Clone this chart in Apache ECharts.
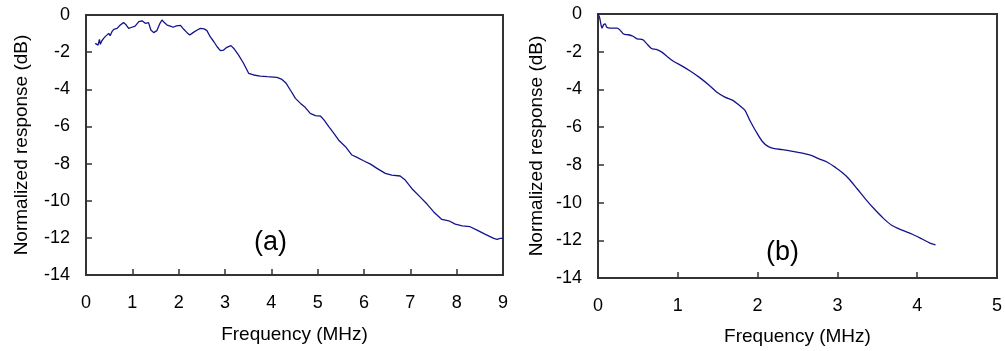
<!DOCTYPE html>
<html>
<head>
<meta charset="utf-8">
<script src="https://cdn.jsdelivr.net/npm/echarts@6/dist/echarts.min.js"></script>
<style>
html,body{margin:0;padding:0;background:#fff;}
#c{width:1005px;height:351px;}
</style>
</head>
<body>
<div id="c"></div>
<script>
// Panel (a): frequency (MHz) and normalized response (dB)
const freqA = [0.2,0.24,0.26,0.29,0.31,0.34,0.38,0.42,0.45,0.49,0.52,0.56,0.6,0.67,0.74,0.81,0.87,0.92,0.99,1.06,1.14,1.21,1.28,1.35,1.4,1.46,1.53,1.59,1.64,1.69,1.75,1.82,1.88,1.95,2.04,2.11,2.18,2.24,2.31,2.4,2.47,2.55,2.61,2.68,2.76,2.83,2.9,2.97,3.04,3.13,3.19,3.29,3.4,3.51,3.62,3.76,3.91,4.12,4.23,4.32,4.41,4.52,4.63,4.73,4.84,4.95,5.06,5.14,5.24,5.35,5.45,5.6,5.74,5.85,5.99,6.14,6.28,6.46,6.6,6.78,6.89,7.03,7.22,7.36,7.5,7.68,7.83,7.97,8.12,8.29,8.44,8.62,8.8,8.87,8.94,9.0];
const respA = [-1.53,-1.44,-1.62,-1.31,-1.58,-1.4,-1.26,-1.15,-1.05,-0.99,-1.12,-0.9,-0.77,-0.72,-0.54,-0.41,-0.54,-0.72,-0.66,-0.6,-0.36,-0.31,-0.45,-0.41,-0.81,-0.95,-0.84,-0.48,-0.27,-0.41,-0.54,-0.6,-0.66,-0.59,-0.56,-0.77,-0.95,-1.08,-0.95,-0.81,-0.72,-0.75,-0.84,-1.17,-1.44,-1.71,-1.92,-1.89,-1.74,-1.65,-1.8,-2.15,-2.6,-3.14,-3.23,-3.29,-3.32,-3.36,-3.47,-3.68,-4.04,-4.49,-4.76,-4.97,-5.3,-5.42,-5.44,-5.66,-6.01,-6.37,-6.73,-7.09,-7.54,-7.67,-7.85,-8.03,-8.26,-8.53,-8.62,-8.67,-8.89,-9.34,-9.82,-10.18,-10.59,-11.01,-11.08,-11.26,-11.35,-11.4,-11.58,-11.81,-12.03,-12.08,-12.03,-12.03];

// Panel (b)
const freqB = [0,0.017,0.03,0.05,0.07,0.09,0.11,0.15,0.24,0.28,0.32,0.38,0.44,0.49,0.56,0.61,0.67,0.73,0.8,0.86,0.94,1.05,1.15,1.27,1.4,1.5,1.59,1.69,1.77,1.84,1.9,1.98,2.06,2.13,2.21,2.31,2.44,2.56,2.67,2.77,2.87,2.98,3.06,3.14,3.25,3.35,3.46,3.58,3.68,3.81,3.94,4.06,4.16,4.23];
const respB = [0,-0.14,-0.4,-0.75,-0.57,-0.52,-0.7,-0.75,-0.75,-0.87,-1.06,-1.1,-1.18,-1.32,-1.36,-1.57,-1.83,-1.88,-2.02,-2.23,-2.49,-2.75,-3.01,-3.36,-3.8,-4.18,-4.41,-4.58,-4.84,-5.1,-5.62,-6.23,-6.76,-7.02,-7.14,-7.19,-7.28,-7.38,-7.5,-7.68,-7.85,-8.15,-8.41,-8.72,-9.28,-9.8,-10.33,-10.85,-11.2,-11.46,-11.68,-11.93,-12.15,-12.24];

const yTicks = [0,-2,-4,-6,-8,-10,-12,-14];
const panelLabels = ['(a)','(b)'];
const xTitle = 'Frequency (MHz)';
const yTitle = 'Normalized response (dB)';

const FONT = 'Liberation Sans, Arial, sans-serif';
const axisCol = '#333';
const lineCol = '#14148c';

function pairs(xs, ys){ return xs.map((x,i)=>[x, ys[i]]); }

function xAx(gi, max, gap){
  return {
    gridIndex: gi, type:'value', min:0, max:max, interval:1,
    name: xTitle, nameLocation:'middle', nameGap: gap,
    nameTextStyle:{fontFamily:FONT, fontSize:19, color:'#000'},
    axisLine:{show:true, onZero:false, lineStyle:{color:axisCol, width:2}},
    axisTick:{show:true, inside:true, length:6, lineStyle:{color:axisCol, width:1.5}},
    axisLabel:{fontFamily:FONT, fontSize:18, color:'#000', margin:19},
    splitLine:{show:false}
  };
}
function yAx(gi, gap){
  return {
    gridIndex: gi, type:'value', min:-14, max:0, interval:2,
    name: yTitle, nameLocation:'middle', nameGap: gap, nameRotate:90,
    nameTextStyle:{fontFamily:FONT, fontSize:19, color:'#000'},
    axisLine:{show:true, onZero:false, lineStyle:{color:axisCol, width:2}},
    axisTick:{show:true, inside:true, length:6, lineStyle:{color:axisCol, width:1.5}},
    axisLabel:{fontFamily:FONT, fontSize:18, color:'#000', margin:16,
      formatter: v => yTicks.includes(v) ? String(v) : ''},
    splitLine:{show:false}
  };
}

const chart = echarts.init(document.getElementById('c'), null, {renderer:'canvas'});
chart.setOption({
  animation:false,
  backgroundColor:'#fff',
  grid:[
    {left:86, top:15, width:417, height:260, show:true, borderColor:axisCol, borderWidth:2, backgroundColor:'transparent'},
    {left:598, top:14, width:401, height:268, show:true, borderColor:axisCol, borderWidth:2, backgroundColor:'transparent'}
  ],
  xAxis:[xAx(0, 9, 50), xAx(1, 5, 49)],
  yAxis:[yAx(0, 55), yAx(1, 52)],
  series:[
    {type:'line', xAxisIndex:0, yAxisIndex:0, data:pairs(freqA, respA), showSymbol:false, smooth:false,
      lineStyle:{color:lineCol, width:1.3}},
    {type:'line', xAxisIndex:1, yAxisIndex:1, data:pairs(freqB, respB), showSymbol:false, smooth:0.3,
      lineStyle:{color:lineCol, width:1.3}}
  ],
  graphic:[
    {type:'text', left:254, top:229, style:{text:panelLabels[0], fontFamily:FONT, fontSize:27, fill:'#000'}},
    {type:'text', left:766, top:239, style:{text:panelLabels[1], fontFamily:FONT, fontSize:27, fill:'#000'}}
  ]
});
</script>
</body>
</html>
